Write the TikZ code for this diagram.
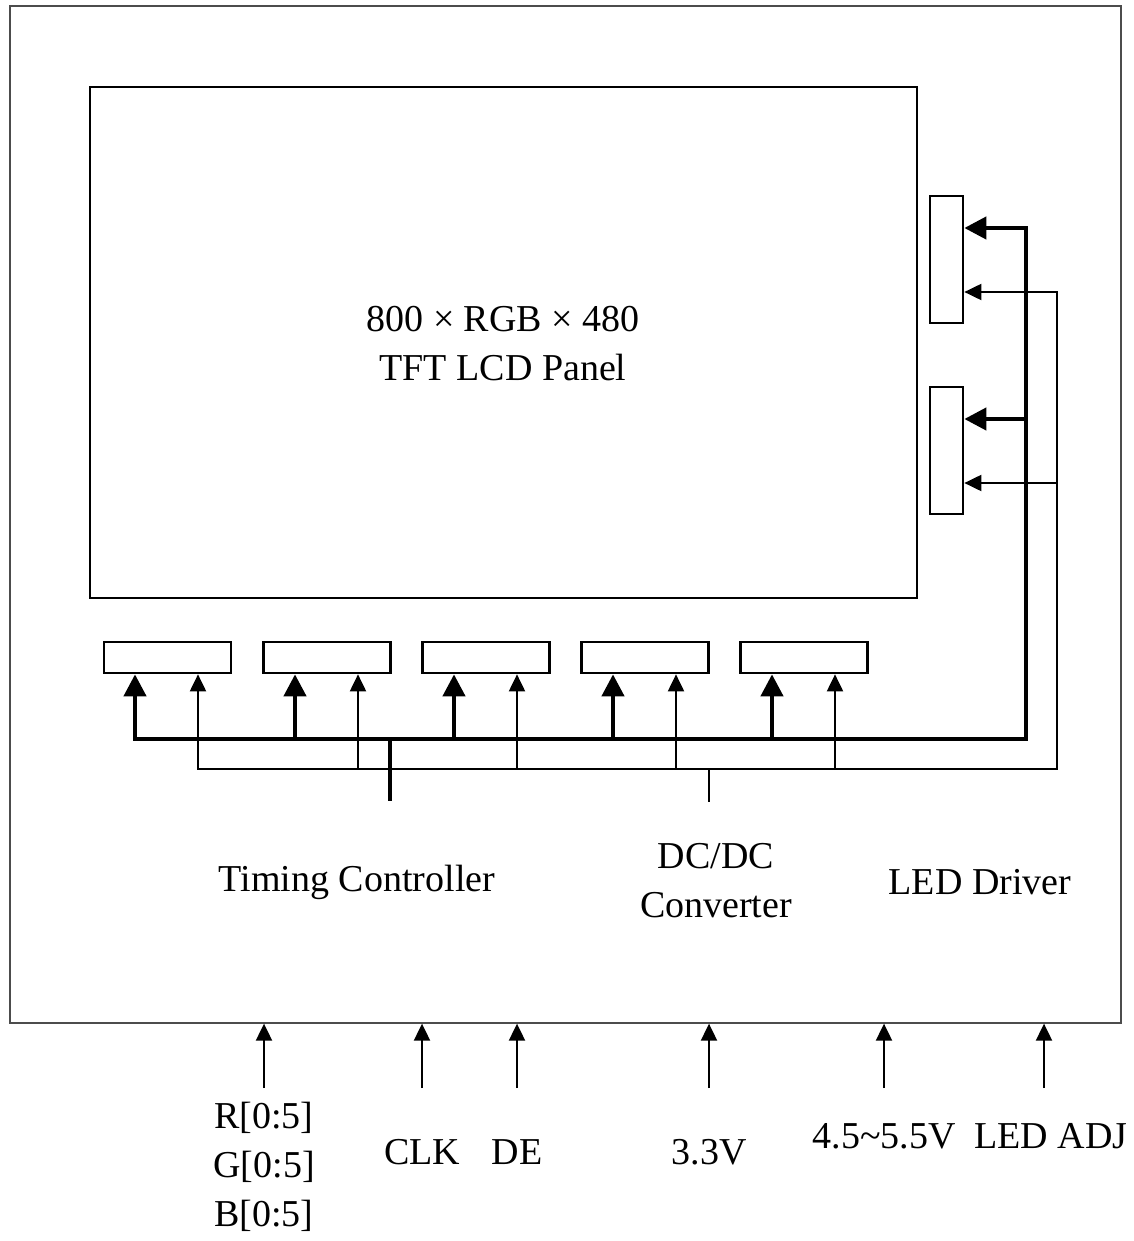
\documentclass[tikz,border=0pt]{standalone}
\usepackage{fontspec}
\setmainfont{Liberation Serif}
\usetikzlibrary{arrows.meta}
\begin{document}
\begin{tikzpicture}[x=1pt,y=-1pt,
  lbl/.style={font=\fontsize{38}{49}\selectfont, align=center, inner sep=0pt},
  conn/.style={draw, line width=2.7pt, fill=white, inner sep=0pt},
  thickbus/.style={line width=4.3pt},
  thinbus/.style={line width=2pt},
  thickhead/.tip={Triangle[length=22pt,width=22pt]},
  thinhead/.tip={Triangle[length=17pt,width=16pt]},
  thickarrow/.style={thickbus, -thickhead},
  thinarrow/.style={thinbus, -thinhead},
  inarrow/.style={line width=2pt, -{Triangle[length=17pt,width=16pt]}}]
\useasboundingbox (0,0) rectangle (1134,1241);
\fill[white] (0,0) rectangle (1134,1241);
% frame and panel
\node (frame) [draw=black!70, line width=1.3pt, minimum width=1111pt, minimum height=1017pt, inner sep=0pt] at (565.5,514.5) {};
\node (panel) [draw, line width=2.5pt, minimum width=827pt, minimum height=511pt, inner sep=0pt] at (503.5,342.5) {};
\node (ptext) [lbl] at (503,344) {800 × RGB × 480\\TFT LCD Panel};
% bottom connectors
\foreach \i/\cx in {1/167.5,2/327,3/486,4/645,5/804}
  \node (bb\i) [conn, minimum width=127pt, minimum height=31pt] at (\cx,657.5) {};
% right connectors
\node (rb1) [conn, minimum width=33pt, minimum height=127pt] at (946.5,259.5) {};
\node (rb2) [conn, minimum width=33pt, minimum height=127pt] at (946.5,450.5) {};
% bus coordinates
\coordinate (tb0) at (135,739);
\coordinate (tbc) at (1026,739);
\coordinate (tbt) at (1026,228);
\coordinate (tb2) at (1026,419);
\coordinate (ts0) at (198,769);
\coordinate (tsc) at (1057,769);
\coordinate (tst) at (1057,292);
\coordinate (ts2) at (1057,483);
\coordinate (tstub) at (390,739);
\coordinate (tstubE) at (390,801);
\coordinate (sstub) at (709,769);
\coordinate (sstubE) at (709,802);
% thick bus
\draw[thickbus, thickhead-thickhead] (bb1.south -| tb0) -- (tb0) -- (tbc) -- (tbt) -- (tbt -| rb1.east);
\draw[thickarrow] (tb2) -- (tb2 -| rb2.east);
\foreach \x/\b in {295/2,454/3,613/4,772/5}
  \draw[thickarrow] (\x,739) -- (bb\b.south -| \x,739);
\draw[thickbus] (tstub) -- (tstubE);
% thin bus
\draw[thinbus, thinhead-thinhead] (bb1.south -| ts0) -- (ts0) -- (tsc) -- (tst) -- (tst -| rb1.east);
\draw[thinarrow] (ts2) -- (ts2 -| rb2.east);
\foreach \x/\b in {358/2,517/3,676/4,835/5}
  \draw[thinarrow] (\x,769) -- (bb\b.south -| \x,769);
\draw[thinbus] (sstub) -- (sstubE);
% block labels
\node (tc) [lbl] at (357,882) {Timing Controller};
\node (dc) [lbl] at (716,881) {DC/DC\\Converter};
\node (led) [lbl] at (980,882) {LED Driver};
% inputs
\foreach \n/\x in {rgb/264,clk/422,de/517,v33/709,v5/884,adj/1044}{
  \coordinate (in\n) at (\x,1088);
  \draw[inarrow] (in\n) -- (in\n |- frame.south);
}
\node (lrgb) [lbl] at (264,1167) {R[0:5]\\G[0:5]\\B[0:5]};
\node (lclk) [lbl] at (422,1152) {CLK};
\node (lde) [lbl] at (517,1152) {DE};
\node (l33) [lbl] at (709,1152) {3.3V};
\node (l5) [lbl] at (884,1136) {4.5\textasciitilde5.5V};
\node (ladj) [lbl] at (1051,1136) {LED ADJ};
\end{tikzpicture}
\end{document}
